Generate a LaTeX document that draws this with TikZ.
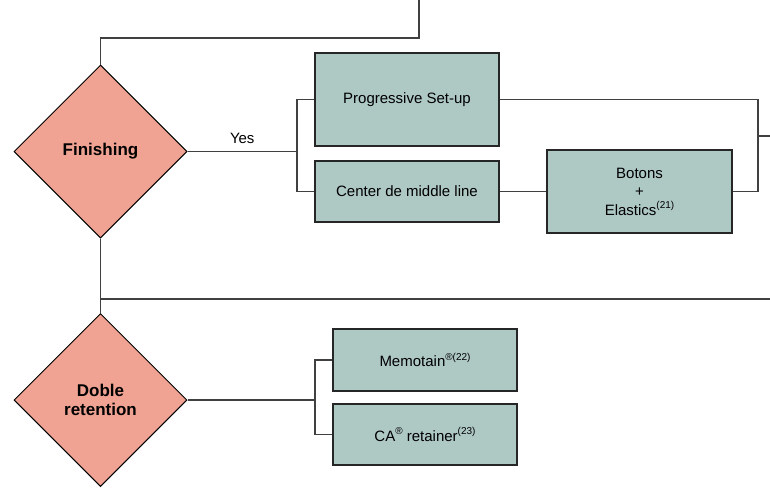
\documentclass[tikz,border=0pt]{standalone}
\usepackage{fontspec}
\setmainfont{Liberation Sans}
\usetikzlibrary{shapes.geometric}
\definecolor{dfill}{HTML}{F0A393}
\definecolor{bfill}{HTML}{AEC8C4}
\definecolor{lcol}{HTML}{404040}
\newcommand\mysup[1]{\raisebox{0.42em}{\fontsize{10}{10}\selectfont #1}}
\begin{document}
\begin{tikzpicture}[x=1pt,y=-1pt,
 dia/.style={diamond, draw=black, line width=1pt, fill=dfill, minimum width=173pt, minimum height=173pt, inner sep=0pt, font=\fontsize{17}{19}\selectfont\bfseries, align=center},
 box/.style={rectangle, draw=black!85, line width=1.4pt, fill=bfill, inner sep=0pt, font=\fontsize{15}{18.5}\selectfont, align=center},
 conn/.style={draw=lcol, line width=1.3pt},
 lbl/.style={font=\fontsize{15}{18}\selectfont}]
\useasboundingbox (0,0) rectangle (770,487);

\node[dia] (fin) at (100.5,151.5) {Finishing};
\node[dia] (dob) at (100.5,400) {Doble\\retention};

\node[box, minimum width=184pt, minimum height=93pt] (prog) at (407,99.5) {Progressive Set-up};
\node[box, minimum width=184pt, minimum height=61pt] (cen) at (407,191.5) {Center de middle line};
\node[box, minimum width=185pt, minimum height=83pt] (bot) at (639.5,191.5) {Botons\\+\\Elastics\mysup{(21)}};
\node[box, minimum width=184pt, minimum height=62pt] (memo) at (425,360) {Memotain\mysup{®(22)}};
\node[box, minimum width=184pt, minimum height=61pt] (ca) at (425,434.5) {CA\mysup{®} retainer\mysup{(23)}};

\coordinate (tj) at (419,38);
\coordinate (topend) at (419,0);
\coordinate (j1) at (297,151.5);
\coordinate (j2) at (758,136);
\coordinate (rend1) at (770,136);
\coordinate (j3) at (100.5,299);
\coordinate (rend2) at (770,299);
\coordinate (j4) at (315,400);

\draw[conn] (fin.north) |- (tj) -- (topend);
\draw[conn] (fin.east) -- node[lbl, above=4pt] {Yes} (j1);
\draw[conn] (prog.west) -| (j1) |- (cen.west);
\draw[conn] (cen.east) -- (bot.west);
\draw[conn] (prog.east) -| (j2) |- (bot.east);
\draw[conn] (j2) -- (rend1);
\draw[conn] (fin.south) -- (dob.north);
\draw[conn] (j3) -- (rend2);
\draw[conn] (dob.east) -- (j4);
\draw[conn] (memo.west) -| (j4) |- (ca.west);
\end{tikzpicture}
\end{document}
